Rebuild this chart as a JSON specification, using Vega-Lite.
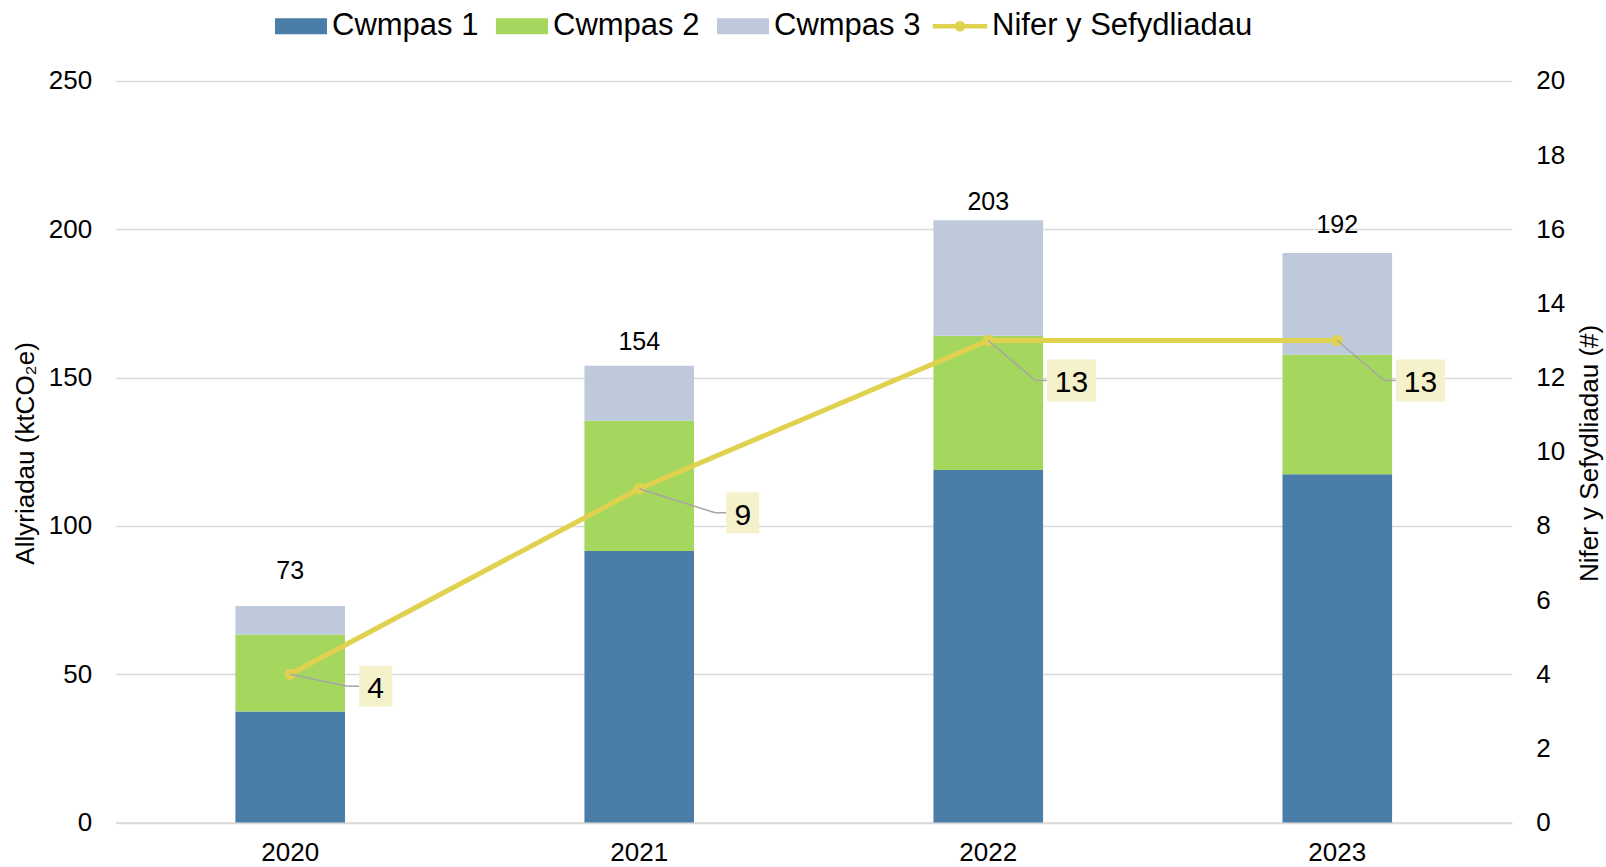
{
  "$schema": "https://vega.github.io/schema/vega-lite/v6.json",
  "width": 1396.1,
  "height": 741.6,
  "autosize": {"type": "none"},
  "padding": {"left": 115.7, "top": 80.9, "right": 94.2, "bottom": 44.5},
  "background": "white",
  "config": {"font": "Liberation Sans", "view": {"stroke": null}},
  "datasets": {
    "emissions": [
      {"year": "2020", "scope": "Cwmpas 1", "value": 37.4},
      {"year": "2020", "scope": "Cwmpas 2", "value": 26.0},
      {"year": "2020", "scope": "Cwmpas 3", "value": 9.6},
      {"year": "2021", "scope": "Cwmpas 1", "value": 91.5},
      {"year": "2021", "scope": "Cwmpas 2", "value": 43.9},
      {"year": "2021", "scope": "Cwmpas 3", "value": 18.6},
      {"year": "2022", "scope": "Cwmpas 1", "value": 118.8},
      {"year": "2022", "scope": "Cwmpas 2", "value": 45.3},
      {"year": "2022", "scope": "Cwmpas 3", "value": 38.9},
      {"year": "2023", "scope": "Cwmpas 1", "value": 117.4},
      {"year": "2023", "scope": "Cwmpas 2", "value": 40.3},
      {"year": "2023", "scope": "Cwmpas 3", "value": 34.3}
    ],
    "orgs": [
      {"year": "2020", "count": 4},
      {"year": "2021", "count": 9},
      {"year": "2022", "count": 13},
      {"year": "2023", "count": 13}
    ]
  },
  "encoding": {
    "x": {
      "field": "year",
      "type": "nominal",
      "scale": {"paddingInner": 0.686, "paddingOuter": 0.343},
      "axis": {
        "title": null,
        "labelAngle": 0,
        "domain": true,
        "domainColor": "#D9D9D9",
        "domainWidth": 1.5,
        "ticks": false,
        "tickSize": 0,
        "labelPadding": 17,
        "labelFontSize": 26,
        "labelColor": "#000000",
        "labelBaseline": "top"
      }
    }
  },
  "layer": [
    {
      "data": {"name": "emissions"},
      "encoding": {
        "y": {
          "field": "value",
          "type": "quantitative",
          "scale": {"domain": [0, 250]},
          "axis": {
            "values": [0, 50, 100, 150, 200, 250],
            "grid": true,
            "gridColor": "#D9D9D9",
            "gridWidth": 1.5,
            "domain": false,
            "ticks": false,
            "tickSize": 0,
            "labelPadding": 24,
            "labelFontSize": 26,
            "labelColor": "#000000",
            "title": "Allyriadau (ktCO₂e)",
            "titleFontSize": 26,
            "titleFontWeight": "normal",
            "titleColor": "#000000",
            "titleAngle": 270,
            "titleX": -90.1,
            "titleY": 372,
            "titleAlign": "center",
            "titleBaseline": "middle"
          }
        }
      },
      "layer": [
        {
          "mark": {"type": "bar"},
          "encoding": {
            "fill": {
              "field": "scope",
              "type": "nominal",
              "scale": {
                "domain": ["Cwmpas 1", "Cwmpas 2", "Cwmpas 3"],
                "range": ["#4A7EA8", "#A5D65E", "#BEC9DB"]
              },
              "legend": {
                "orient": "none",
                "legendX": 168.3,
                "legendY": -71.6,
                "direction": "horizontal",
                "title": null,
                "symbolType": "M-1.53,-0.47H1.53V0.47H-1.53Z",
                "symbolSize": 1156,
                "symbolStrokeWidth": 0,
                "labelFontSize": 31,
                "labelColor": "#000000",
                "labelOffset": 14,
                "columnPadding": 16,
                "padding": 0,
                "labelLimit": 400
              }
            },
            "order": {"field": "scope", "sort": "ascending"}
          }
        },
        {
          "transform": [
            {"aggregate": [{"op": "sum", "field": "value", "as": "value"}], "groupby": ["year"]}
          ],
          "layer": [
            {
              "transform": [{"filter": "datum.year == '2020'"}],
              "mark": {"type": "text", "baseline": "alphabetic", "yOffset": -26.5, "fontSize": 25, "color": "#000000"},
              "encoding": {"text": {"field": "value", "type": "quantitative", "format": ".0f"}}
            },
            {
              "transform": [{"filter": "datum.year == '2021'"}],
              "mark": {"type": "text", "baseline": "alphabetic", "yOffset": -15.7, "fontSize": 25, "color": "#000000"},
              "encoding": {"text": {"field": "value", "type": "quantitative", "format": ".0f"}}
            },
            {
              "transform": [{"filter": "datum.year == '2022'"}],
              "mark": {"type": "text", "baseline": "alphabetic", "yOffset": -10.6, "fontSize": 25, "color": "#000000"},
              "encoding": {"text": {"field": "value", "type": "quantitative", "format": ".0f"}}
            },
            {
              "transform": [{"filter": "datum.year == '2023'"}],
              "mark": {"type": "text", "baseline": "alphabetic", "yOffset": -19.6, "fontSize": 25, "color": "#000000"},
              "encoding": {"text": {"field": "value", "type": "quantitative", "format": ".0f"}}
            }
          ]
        }
      ]
    },
    {
      "data": {"name": "orgs"},
      "encoding": {
        "y": {
          "field": "count",
          "type": "quantitative",
          "scale": {"domain": [0, 20]},
          "axis": {
            "orient": "right",
            "values": [0, 2, 4, 6, 8, 10, 12, 14, 16, 18, 20],
            "grid": false,
            "domain": false,
            "ticks": false,
            "tickSize": 0,
            "labelPadding": 24,
            "labelFontSize": 26,
            "labelColor": "#000000",
            "title": "Nifer y Sefydliadau (#)",
            "titleFontSize": 26,
            "titleFontWeight": "normal",
            "titleColor": "#000000",
            "titleAngle": 270,
            "titleX": 77.8,
            "titleY": 372,
            "titleAlign": "center",
            "titleBaseline": "middle"
          }
        }
      },
      "layer": [
        {
          "mark": {"type": "line", "strokeWidth": 5},
          "encoding": {
            "stroke": {
              "datum": "Nifer y Sefydliadau",
              "type": "nominal",
              "scale": {"range": ["#E0D24F"]},
              "legend": {
                "orient": "none",
                "legendX": 824.8,
                "legendY": -74.1,
                "title": null,
                "symbolType": "M-1.6,0H1.6M-0.18,0A0.18,0.18 0 1,1 0.18,0A0.18,0.18 0 1,1 -0.18,0",
                "symbolSize": 1156,
                "symbolStrokeWidth": 4.5,
                "labelFontSize": 31,
                "labelColor": "#000000",
                "labelOffset": 12.5,
                "padding": 0,
                "labelLimit": 400
              }
            }
          }
        },
        {
          "mark": {"type": "point", "filled": true, "size": 130, "color": "#E0D24F", "opacity": 1}
        },
        {
          "transform": [{"filter": "datum.year == '2020'"}],
          "layer": [
            {
              "mark": {"type": "rule", "color": "#A6A6A6", "strokeWidth": 1.5, "x2Offset": 57, "y2Offset": 12},
              "encoding": {
                "x": {"field": "year", "type": "nominal", "bandPosition": 0.5},
                "x2": {"field": "year", "bandPosition": 0.5},
                "y2": {"field": "count"}
              }
            },
            {
              "mark": {"type": "rule", "color": "#A6A6A6", "strokeWidth": 1.5, "xOffset": 57, "yOffset": 12, "x2Offset": 69, "y2Offset": 12},
              "encoding": {
                "x": {"field": "year", "type": "nominal", "bandPosition": 0.5},
                "x2": {"field": "year", "bandPosition": 0.5},
                "y2": {"field": "count"}
              }
            },
            {
              "mark": {"type": "point", "shape": "M-1,-1.242H1V1.242H-1Z", "size": 1089, "filled": true, "color": "#F5F1CB", "opacity": 1, "xOffset": 85.5, "yOffset": 12}
            },
            {
              "mark": {"type": "text", "fontSize": 30, "color": "#000000", "align": "center", "baseline": "middle", "xOffset": 85.5, "yOffset": 15},
              "encoding": {"text": {"field": "count", "type": "quantitative"}}
            }
          ]
        },
        {
          "transform": [{"filter": "datum.year == '2021'"}],
          "layer": [
            {
              "mark": {"type": "rule", "color": "#A6A6A6", "strokeWidth": 1.5, "x2Offset": 76, "y2Offset": 24},
              "encoding": {
                "x": {"field": "year", "type": "nominal", "bandPosition": 0.5},
                "x2": {"field": "year", "bandPosition": 0.5},
                "y2": {"field": "count"}
              }
            },
            {
              "mark": {"type": "rule", "color": "#A6A6A6", "strokeWidth": 1.5, "xOffset": 76, "yOffset": 24, "x2Offset": 87, "y2Offset": 24},
              "encoding": {
                "x": {"field": "year", "type": "nominal", "bandPosition": 0.5},
                "x2": {"field": "year", "bandPosition": 0.5},
                "y2": {"field": "count"}
              }
            },
            {
              "mark": {"type": "point", "shape": "M-1,-1.242H1V1.242H-1Z", "size": 1089, "filled": true, "color": "#F5F1CB", "opacity": 1, "xOffset": 103.5, "yOffset": 24}
            },
            {
              "mark": {"type": "text", "fontSize": 30, "color": "#000000", "align": "center", "baseline": "middle", "xOffset": 103.5, "yOffset": 27},
              "encoding": {"text": {"field": "count", "type": "quantitative"}}
            }
          ]
        },
        {
          "transform": [{"filter": "datum.year == '2022' || datum.year == '2023'"}],
          "layer": [
            {
              "mark": {"type": "rule", "color": "#A6A6A6", "strokeWidth": 1.5, "x2Offset": 47, "y2Offset": 40},
              "encoding": {
                "x": {"field": "year", "type": "nominal", "bandPosition": 0.5},
                "x2": {"field": "year", "bandPosition": 0.5},
                "y2": {"field": "count"}
              }
            },
            {
              "mark": {"type": "rule", "color": "#A6A6A6", "strokeWidth": 1.5, "xOffset": 47, "yOffset": 40, "x2Offset": 58.5, "y2Offset": 40},
              "encoding": {
                "x": {"field": "year", "type": "nominal", "bandPosition": 0.5},
                "x2": {"field": "year", "bandPosition": 0.5},
                "y2": {"field": "count"}
              }
            },
            {
              "mark": {"type": "point", "shape": "M-1,-0.852H1V0.852H-1Z", "size": 2430, "filled": true, "color": "#F5F1CB", "opacity": 1, "xOffset": 83.2, "yOffset": 40}
            },
            {
              "mark": {"type": "text", "fontSize": 30, "color": "#000000", "align": "center", "baseline": "middle", "xOffset": 83.2, "yOffset": 43},
              "encoding": {"text": {"field": "count", "type": "quantitative"}}
            }
          ]
        }
      ]
    }
  ],
  "resolve": {"scale": {"y": "independent"}}
}
